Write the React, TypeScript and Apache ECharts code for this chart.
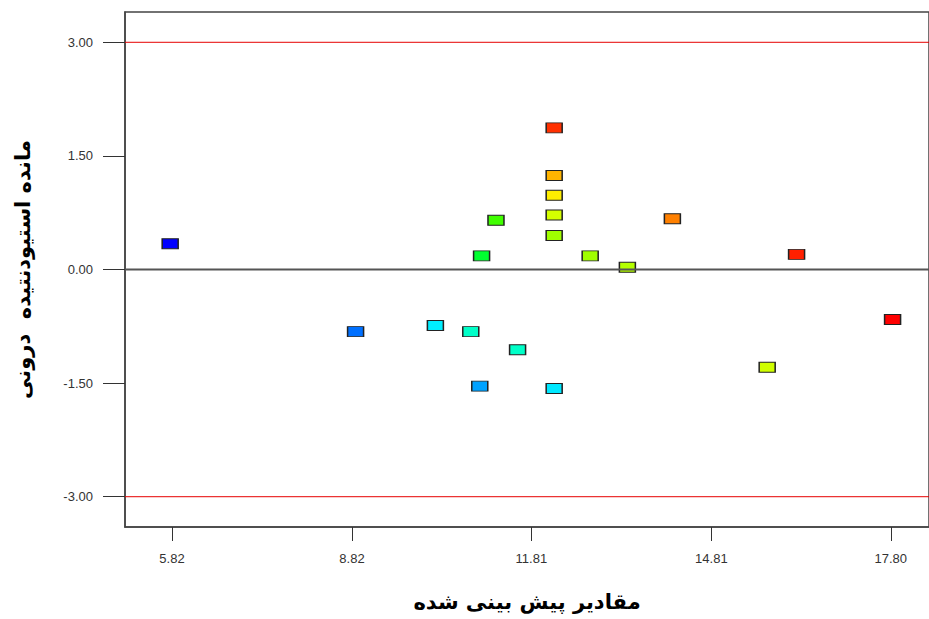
import React, { useEffect, useRef } from "react";
import * as echarts from "echarts";

const predicted = [5.79, 8.88, 10.21, 10.80, 10.95, 10.98, 11.22, 11.58, 12.19, 12.19, 12.19, 12.19, 12.19, 12.19, 12.79, 13.41, 14.16, 15.74, 16.23, 17.83];
const residuals = [0.34, -0.82, -0.74, -0.82, -1.54, 0.18, 0.65, -1.06, 1.87, 1.24, 0.98, 0.72, 0.45, -1.57, 0.18, 0.03, 0.67, -1.29, 0.20, -0.66];
const pointColors = ["#0000ff", "#0070ff", "#00eeff", "#00ffc8", "#00a2ff", "#00ff30", "#40ff00", "#00ffc8", "#ff3000", "#ffb400", "#ffee00", "#d4ff00", "#a0ff00", "#00e8ff", "#a0ff00", "#b4ff00", "#ff8000", "#d0ff00", "#ff2000", "#ff0000"];
const xTicks = [5.82, 8.82, 11.81, 14.81, 17.80];
const yTicks = [-3, -1.5, 0, 1.5, 3];
const limitLines = [3, -3];
const zeroLine = 0;
const xMin = 5.037;
const xMax = 18.437;
const xTitle = "مقادیر پیش بینی شده";
const yTitle = "مانده استیودنتیده  درونی";

export default function App() {
  const ref = useRef<HTMLDivElement>(null);
  useEffect(() => {
    if (!ref.current) return;
    const chart = echarts.init(ref.current, null, { renderer: "svg" });
    const data = predicted.map((x, i) => ({
      value: [x, residuals[i]],
      itemStyle: { color: pointColors[i] },
    }));
    const hLine = (y: number, color: string, width: number, z: number) => ({
      type: "line",
      data: [
        [xMin, y],
        [xMax, y],
      ],
      symbol: "none",
      silent: true,
      lineStyle: { color, width, type: "solid" },
      itemStyle: { color },
      z,
    });
    chart.setOption({
      animation: false,
      grid: {
        left: 125,
        top: 12,
        right: 0,
        bottom: 92,
        outerBoundsMode: "none",
        containLabel: false,
        show: true,
        borderColor: "#444",
        borderWidth: 1.5,
        backgroundColor: "transparent",
      },
      xAxis: {
        type: "value",
        min: xMin,
        max: xMax,
        axisLine: { show: true, onZero: false, lineStyle: { color: "#444", width: 1.5 } },
        axisTick: { show: true, customValues: xTicks, length: 14, lineStyle: { color: "#333" } },
        axisLabel: {
          customValues: xTicks,
          formatter: (v: number) => v.toFixed(2),
          margin: 25,
          color: "#333",
          fontSize: 13,
          fontFamily: "'Liberation Sans', Arial, sans-serif",
        },
        splitLine: { show: false },
        name: xTitle,
        nameLocation: "middle",
        nameGap: 64,
        nameTextStyle: {
          fontSize: 21,
          fontWeight: "bold",
          color: "#000",
          fontFamily: "'DejaVu Sans', sans-serif",
        },
      },
      yAxis: {
        type: "value",
        min: -3.4,
        max: 3.4,
        axisLine: { show: true, lineStyle: { color: "#444", width: 1.5 } },
        axisTick: { show: true, customValues: yTicks, length: 22, lineStyle: { color: "#333" } },
        axisLabel: {
          customValues: yTicks,
          formatter: (v: number) => v.toFixed(2),
          margin: 32,
          color: "#333",
          fontSize: 13,
          fontFamily: "'Liberation Sans', Arial, sans-serif",
        },
        splitLine: { show: false },
        name: yTitle,
        nameLocation: "middle",
        nameGap: 92,
        nameRotate: 90,
        nameTextStyle: {
          fontSize: 21,
          fontWeight: "bold",
          color: "#000",
          fontFamily: "'DejaVu Sans', sans-serif",
        },
      },
      series: [
        ...limitLines.map((v) => hLine(v, "#e60000", 1, 1)),
        {
          type: "scatter",
          symbol: "rect",
          symbolSize: [16, 10],
          itemStyle: { borderColor: "#222", borderWidth: 1.2, opacity: 1 },
          data,
          z: 3,
        },
        hLine(zeroLine, "#555", 2, 4),
      ],
    });
    return () => chart.dispose();
  }, []);
  return (
    <div
      ref={ref}
      style={{ position: "fixed", left: 0, top: 0, width: 929, height: 619, background: "#fff" }}
    />
  );
}
